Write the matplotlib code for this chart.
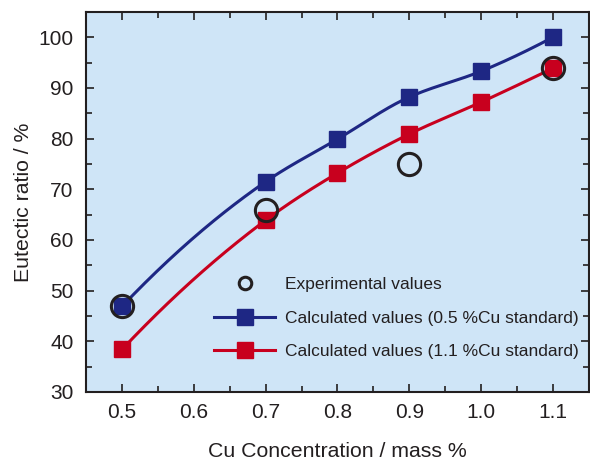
import numpy as np
import matplotlib

matplotlib.use("Agg")
import matplotlib.pyplot as plt
from matplotlib.ticker import MultipleLocator

plt.rcParams["font.family"] = ["Liberation Sans", "DejaVu Sans"]

# values
cu_calc = [0.5, 0.7, 0.8, 0.9, 1.0, 1.1]
ratio_std_05 = [46.9, 71.5, 79.9, 88.2, 93.3, 100.0]
ratio_std_11 = [38.4, 63.9, 73.2, 80.9, 87.2, 93.9]

cu_exp = [0.5, 0.7, 0.9, 1.1]
ratio_exp = [46.9, 66.0, 75.0, 94.0]

BLUE = "#1e2784"
RED = "#c8001e"
BG = "#cfe5f7"
INK = "#231f20"


def smooth(x, y, n=300):
    """Monotone cubic (PCHIP) curve through the points, for drawing only."""
    x = np.asarray(x, float)
    y = np.asarray(y, float)
    h = np.diff(x)
    d = np.diff(y) / h
    m = np.zeros_like(y)
    for i in range(1, len(x) - 1):
        if d[i - 1] * d[i] > 0:
            w1 = 2 * h[i] + h[i - 1]
            w2 = h[i] + 2 * h[i - 1]
            m[i] = (w1 + w2) / (w1 / d[i - 1] + w2 / d[i])
    m[0] = ((2 * h[0] + h[1]) * d[0] - h[0] * d[1]) / (h[0] + h[1])
    m[-1] = ((2 * h[-1] + h[-2]) * d[-1] - h[-1] * d[-2]) / (h[-1] + h[-2])
    xs = np.linspace(x[0], x[-1], n)
    idx = np.clip(np.searchsorted(x, xs) - 1, 0, len(x) - 2)
    hh = h[idx]
    t = (xs - x[idx]) / hh
    h00 = 2 * t**3 - 3 * t**2 + 1
    h10 = t**3 - 2 * t**2 + t
    h01 = -2 * t**3 + 3 * t**2
    h11 = t**3 - t**2
    ys = h00 * y[idx] + h10 * hh * m[idx] + h01 * y[idx + 1] + h11 * hh * m[idx + 1]
    return xs, ys


fig = plt.figure(figsize=(5.9, 4.59), dpi=100)
ax = fig.add_axes([0.146, 0.146, 0.852, 0.828])
ax.set_facecolor(BG)

for xv, yv, color, label in [
    (cu_calc, ratio_std_05, BLUE, "Calculated values (0.5 %Cu standard)"),
    (cu_calc, ratio_std_11, RED, "Calculated values (1.1 %Cu standard)"),
]:
    xs, ys = smooth(xv, yv)
    ax.plot(xs, ys, color=color, lw=2.2, zorder=2)
    ax.plot(xv, yv, ls="none", marker="s", ms=11, color=color, zorder=3)
    # legend proxy
    ax.plot([], [], color=color, lw=2.2, marker="s", ms=11, label=label)

ax.plot(
    cu_exp, ratio_exp, ls="none", marker="o", ms=16, mfc="none",
    mec=INK, mew=2.2, zorder=4,
)
ax.plot([], [], ls="none", marker="o", ms=9, mfc="none", mec=INK,
        mew=2.2, label="Experimental values")

handles, labels = ax.get_legend_handles_labels()
order = [2, 0, 1]
ax.legend(
    [handles[i] for i in order], [labels[i] for i in order],
    loc="lower right", bbox_to_anchor=(1.012, 0.045), frameon=False,
    fontsize=12.5, handlelength=3.5, handletextpad=0.6, labelspacing=1.05,
    labelcolor=INK,
)

ax.set_xlim(0.45, 1.15)
ax.set_ylim(30, 105)
ax.xaxis.set_major_locator(MultipleLocator(0.1))
ax.xaxis.set_minor_locator(MultipleLocator(0.05))
ax.yaxis.set_major_locator(MultipleLocator(10))
ax.yaxis.set_minor_locator(MultipleLocator(5))
ax.set_xticks([0.5, 0.6, 0.7, 0.8, 0.9, 1.0, 1.1])
ax.set_xticklabels(["0.5", "0.6", "0.7", "0.8", "0.9", "1.0", "1.1"])
ax.tick_params(which="both", direction="in", top=True, right=True,
               labelsize=15, color=INK, labelcolor=INK, width=1.2)
ax.tick_params(which="major", length=6)
ax.tick_params(axis="x", which="major", pad=8)
ax.tick_params(axis="y", which="major", pad=9)
ax.tick_params(which="minor", length=4)
for s in ax.spines.values():
    s.set_linewidth(1.5)
    s.set_color(INK)

ax.set_xlabel("Cu Concentration / mass %", fontsize=15.3, color=INK, labelpad=14)
ax.set_ylabel("Eutectic ratio / %", fontsize=15.3, color=INK, labelpad=4)

fig.savefig("out.png", dpi=100)
